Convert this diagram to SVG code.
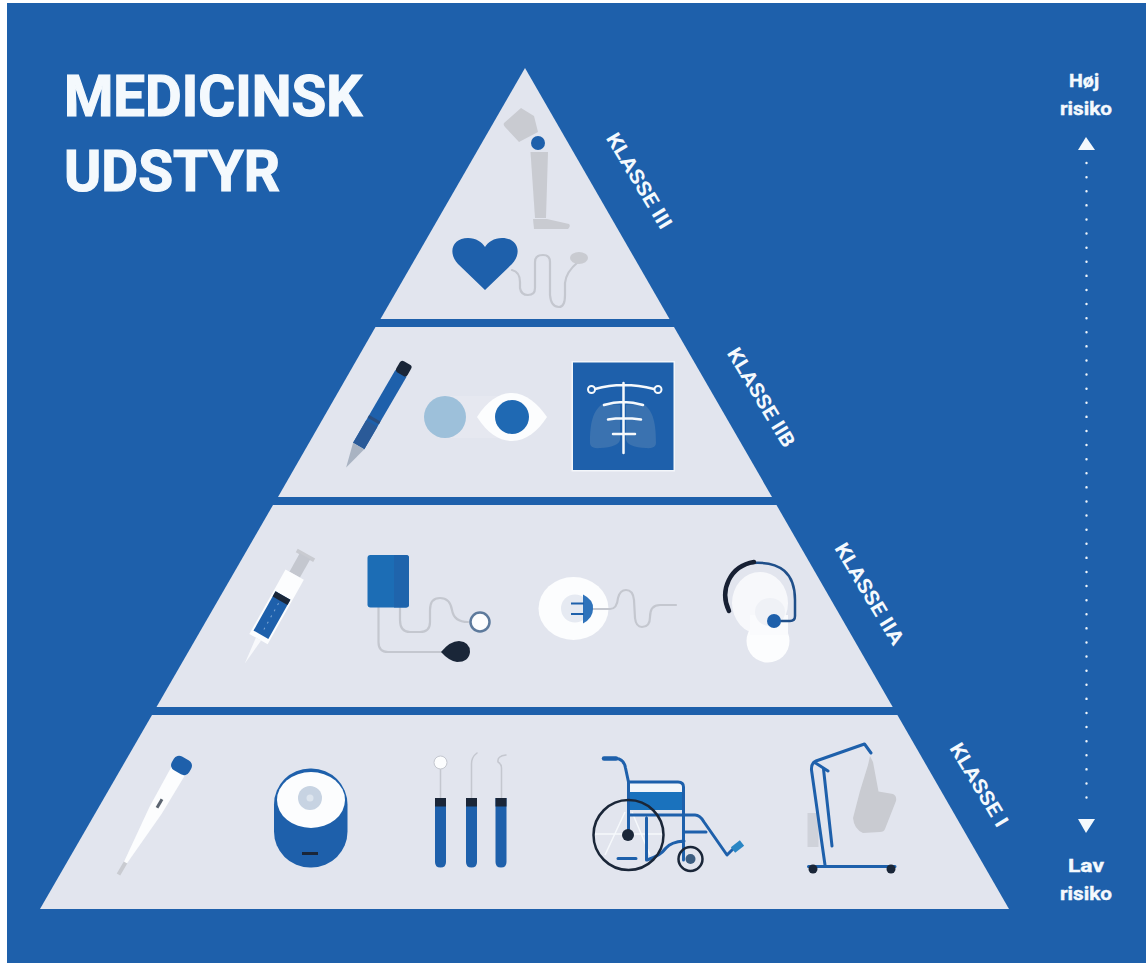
<svg xmlns="http://www.w3.org/2000/svg" width="1146" height="965" viewBox="0 0 1146 965">
<style>
text{font-family:Roboto,"Liberation Sans",sans-serif;font-weight:700;fill:#f4f9fd}
.title{font-size:58px;stroke:#f4f9fd;stroke-width:1.2px}
.cl{font-size:20px}
.risk{font-size:19px;text-anchor:middle;stroke:#f4f9fd;stroke-width:.4px}
.band{fill:#e2e5ee}
.b{fill:#1e60ab}
.sb{fill:none;stroke:#1e60ab;stroke-width:3;stroke-linecap:round;stroke-linejoin:round}
.g{fill:none;stroke:#c4c7cf;stroke-width:2.2;stroke-linecap:round;stroke-linejoin:round}
.gf{fill:#c9cbd1}
.d{fill:#1a2638}
.w{fill:#fcfdfe}
.wl{fill:none;stroke:#f6f9fc;stroke-width:2.5;stroke-linecap:round}
</style>
<rect width="1146" height="965" fill="#fff"/>
<rect x="7" y="3" width="1139" height="960" fill="#1e60ab"/>

<g id="pyramid">
<polygon class="band" points="525,68 669.5,319 380.5,319"/>
<polygon class="band" points="674,327 772,497 278,497 375.500,327"/>
<polygon class="band" points="776.500,505 892.700,707 156.500,707 273,505"/>
<polygon class="band" points="897.400,715 1009,909 40,909 152,715"/>
</g>

<g id="title">
<text class="title" x="64" y="116" textLength="298" lengthAdjust="spacingAndGlyphs">MEDICINSK</text>
<text class="title" x="64" y="191" textLength="216" lengthAdjust="spacingAndGlyphs">UDSTYR</text>
</g>

<g id="labels">
<text class="cl" transform="translate(605.500,138) rotate(59)" textLength="108" lengthAdjust="spacingAndGlyphs">KLASSE III</text>
<text class="cl" transform="translate(726.500,353) rotate(59)" textLength="112" lengthAdjust="spacingAndGlyphs">KLASSE IIB</text>
<text class="cl" transform="translate(834,548) rotate(59)" textLength="115" lengthAdjust="spacingAndGlyphs">KLASSE IIA</text>
<text class="cl" transform="translate(949,748) rotate(59)" textLength="94" lengthAdjust="spacingAndGlyphs">KLASSE I</text>
</g>

<g id="risk-scale">
<text class="risk" x="1084" y="87" textLength="30" lengthAdjust="spacingAndGlyphs">Høj</text>
<text class="risk" x="1086" y="115" textLength="52" lengthAdjust="spacingAndGlyphs">risiko</text>
<polygon fill="#f4f9fd" points="1086,137 1095,150 1078,150"/>
<line x1="1086.500" y1="163" x2="1086.500" y2="806" stroke="#eef4fa" stroke-width="2.400" stroke-linecap="round" stroke-dasharray="0.1 14"/>
<polygon fill="#f4f9fd" points="1078,819 1095,819 1086,833"/>
<text class="risk" x="1086" y="872" textLength="36" lengthAdjust="spacingAndGlyphs">Lav</text>
<text class="risk" x="1086" y="900" textLength="52" lengthAdjust="spacingAndGlyphs">risiko</text>
</g>

<g id="prosthetic-leg">
<path class="gf" d="M521,108 L504,123 Q503,125 505,127 L519,142 L538,132 L534,116 Z"/>
<polygon class="gf" points="530.500,152 548,152 546,218 535,218"/>
<path class="gf" d="M533,219 L547,219 L569,224 Q571,226 568,229 L534,229 Z"/>
<circle class="b" cx="538" cy="143" r="7"/>
</g>

<g id="pacemaker">
<path class="b" d="M485,290 L458,264 C447,252 453,238 468,238 C476,238 482,242 485,247 C488,242 494,238 502,238 C517,238 523,252 512,264 Z"/>
<path class="g" d="M512,270 Q520,272 520,282 L520,288 Q521,295 528,295 Q535,295 535,288 L535,262 Q535,255 543,255 Q550,255 550,262 L550,295 Q551,307 559,307 Q565,307 565,295 L565,283 Q566,272 578,262"/>
<ellipse class="gf" cx="579" cy="258" rx="9" ry="6"/>
</g>

<g id="insulin-pen" transform="translate(407,363) rotate(30.200)">
<rect x="-6.500" y="12" width="13" height="84" class="b"/>
<rect x="-6.500" y="0" width="13" height="13" rx="3" class="d"/>
<rect x="-6.500" y="64" width="13" height="3" fill="#2a4e80"/>
<rect x="-6.500" y="70" width="13" height="26" fill="#2a5a98"/>
<polygon fill="#a9b3c2" points="-6.500,96 6.500,96 0,121"/>
</g>

<g id="contact-lens">
<rect x="445" y="396" width="55" height="42" fill="#e6e8f0"/>
<circle cx="445" cy="417" r="21" fill="#9dc0da"/>
<path class="w" d="M477,417 C488,400 500,393 512,393 C526,393 538,404 547,417 C538,431 526,441 512,441 C500,441 488,434 477,417 Z"/>
<circle cx="512" cy="417" r="17" fill="#1f69b3"/>
</g>

<g id="xray">
<rect x="573" y="362.500" width="100.500" height="107.500" class="b" stroke="#f3f6fa" stroke-width="3" paint-order="stroke"/>
<path fill="#3a72b0" d="M604,403 C592,410 590,425 590,443 Q590,449 600,448 Q618,447 620,440 L620,405 Z M642,403 C654,410 656,425 656,443 Q656,449 646,448 Q628,447 626,440 L626,405 Z"/>
<path class="wl" d="M623.500,383 V453 M595,389 Q623,381 654,389 M604,405 Q623,399 643,405 M608,419.500 Q623,417 641,419.500 M613,434 H635"/>
<circle cx="591.500" cy="389.500" r="3.500" fill="#1e60ab" stroke="#f6f9fc" stroke-width="2"/>
<circle cx="658" cy="389.500" r="3.500" fill="#1e60ab" stroke="#f6f9fc" stroke-width="2"/>
</g>

<g id="syringe" transform="translate(304,558) rotate(29.300)">
<rect x="-10" y="-5" width="20" height="4" class="gf"/>
<rect x="-6" y="-2" width="12" height="21" fill="#c4c7cf"/>
<rect x="-10.500" y="19" width="21" height="74" class="w"/>
<rect x="-8.500" y="43" width="17" height="45" class="b"/>
<rect x="-8.500" y="43" width="17" height="6" class="d"/>
<path fill="none" stroke="#7da6d3" stroke-width="1" stroke-dasharray="2 5" d="M0,52 V86"/>
<polygon class="w" points="-3,93 3,93 0,121" opacity=".85"/>
</g>

<g id="blood-pressure-monitor">
<path class="g" d="M400,607 V620 Q400,632 410,632 H420 Q430,632 430,622 V610 Q430,598 440,598 Q450,598 452,610 Q454,622 468,622"/>
<path class="g" d="M378.500,607 V642 Q378.500,652 388,652 H443"/>
<rect x="367.500" y="555" width="41.500" height="52.500" rx="3" fill="#1c6db5"/>
<path fill="#1f64ac" d="M394,555 H406 Q409,555 409,558 V604 Q409,607.500 406,607.500 H394 Z"/>
<circle cx="480" cy="622" r="9.500" class="w" stroke="#5d7a9c" stroke-width="2.500"/>
<path class="d" d="M441,652 Q450,641 459,641 Q470,642 470,652 Q469,662 457,662 Q449,661 441,652 Z"/>
</g>

<g id="cochlear-implant">
<ellipse class="w" cx="573.500" cy="608.500" rx="35" ry="31.500"/>
<circle cx="575" cy="608.500" r="14" fill="#e6eaf2"/>
<path class="g" d="M592,609 H610 Q617,609 618,598 Q620,590 626,590 Q633,590 634,600 L635,618 Q636,627 642,627 Q650,627 650,617 Q650,605 660,605 H676"/>
<path fill="#2f73bb" d="M583,594.500 Q594,600 593,609 Q593,618 583,623.500 Z"/>
<path fill="none" stroke="#1e60ab" stroke-width="2" d="M571,603.500 H584 M571,614 H584"/>
</g>

<g id="hearing-aid">
<ellipse cx="760" cy="603" rx="28" ry="31" fill="#f7f8fb"/>
<circle class="w" cx="768" cy="641" r="21.500"/>
<rect x="750" y="615" width="38" height="20" fill="#fafbfd"/>
<ellipse cx="770" cy="612" rx="15" ry="14" fill="#eff1f6"/>
<path fill="none" stroke="#1f4f8a" stroke-width="2.500" stroke-linecap="round" stroke-linejoin="round" d="M752,563 Q795,560 795,600 V616 Q795,621 790,621 H775"/>
<path fill="none" stroke="#172033" stroke-width="4.500" stroke-linecap="round" d="M729,611 C719,590 730,566 754,562"/>
<circle class="b" cx="774" cy="621" r="7"/>
</g>

<g id="thermometer" transform="translate(185.500,758.500) rotate(30)">
<path class="w" d="M-8,14 H8 L7,60 L1.500,122 H-1.500 L-7,60 Z"/>
<rect x="-2" y="120" width="4" height="14" class="gf"/>
<rect x="-10" y="0" width="20" height="16" rx="6" class="b"/>
<rect x="-1.500" y="47" width="3" height="10" fill="#5b6470"/>
</g>

<g id="ostomy-device">
<rect x="274" y="768.500" width="73.500" height="99" rx="36" class="b"/>
<ellipse class="w" cx="311" cy="800" rx="34" ry="28"/>
<circle cx="310" cy="798" r="12" fill="#c7d3e2"/>
<circle cx="310" cy="798" r="3.500" fill="#dde5ee"/>
<line x1="302" y1="853.500" x2="318" y2="853.500" stroke="#1a2638" stroke-width="3"/>
</g>

<g id="dental-tools">
<path class="g" style="stroke-width:1.500" d="M440.500,800 V768 M471.500,800 V764 Q471.500,757 477,753 M501.500,800 V768 Q501.500,764 498,762 Q497,756 506,755"/>
<circle class="w" cx="440.500" cy="762.500" r="6.500" stroke="#c4c7cf" stroke-width="1"/>
<path class="b" d="M435,798 H446 V862 Q446,867.500 440.500,867.500 Q435,867.500 435,862 Z M466,798 H477 V862 Q477,867.500 471.500,867.500 Q466,867.500 466,862 Z M495.500,798 H506.500 V862 Q506.500,867.500 501,867.500 Q495.500,867.500 495.500,862 Z"/>
<path class="d" d="M435,798 H446 V806.500 H435 Z M466,798 H477 V806.500 H466 Z M495.500,798 H506.500 V806.500 H495.500 Z"/>
</g>

<g id="wheelchair">
<rect x="628.500" y="783" width="55" height="9" fill="#f2f5fa"/>
<rect x="628.500" y="792" width="55" height="18" fill="#1a72bd"/>
<path fill="none" stroke="#f6f9fc" stroke-width="1.500" d="M594,834 H663 M625,812 L605,855 M632,812 L650,855"/>
<path class="sb" d="M616,758.500 Q624,759 625.500,768 L628.500,782 V832"/>
<line x1="604" y1="758.500" x2="616" y2="758.500" stroke="#1e60ab" stroke-width="4.500" stroke-linecap="round"/>
<path class="sb" d="M628.500,782 H678 Q683.500,782 683.500,787 V860 M628.500,815 H695 Q700,815 704,822 L727,855 L734,848 M683.500,832 H706 M646.500,818 V860 M618,858.500 H636 M647,860 Q660,856 666,848 Q671,842 684,841"/>
<line x1="733" y1="850" x2="742" y2="843" stroke="#2a86c4" stroke-width="7"/>
<circle cx="628.500" cy="835" r="35" fill="none" stroke="#1a2638" stroke-width="2.500"/>
<circle class="d" cx="628" cy="835" r="6"/>
<circle cx="690.500" cy="859" r="12" fill="none" stroke="#1a2638" stroke-width="2.500"/>
<circle cx="690.500" cy="859" r="5" fill="#3c5d80"/>
</g>

<g id="patient-lift">
<rect x="807.500" y="813" width="11" height="34" fill="#cfd2da"/>
<path class="gf" d="M870,756 L873,762 L878.500,791.500 L893,794 Q897,796 896,801 L885,829 Q884,832 880,832 L863,833 Q854,829 853,818 L860,791 L868,765 Z"/>
<path class="sb" d="M808.500,866.500 H895 M825,865 L811.500,770 Q811,763 816,761 L864.500,744 L871,753 M814,762 L828,771 M823.500,769 L832,846"/>
<circle class="d" cx="813" cy="869" r="4.500"/>
<circle class="d" cx="891" cy="869" r="4.500"/>
</g>
</svg>
